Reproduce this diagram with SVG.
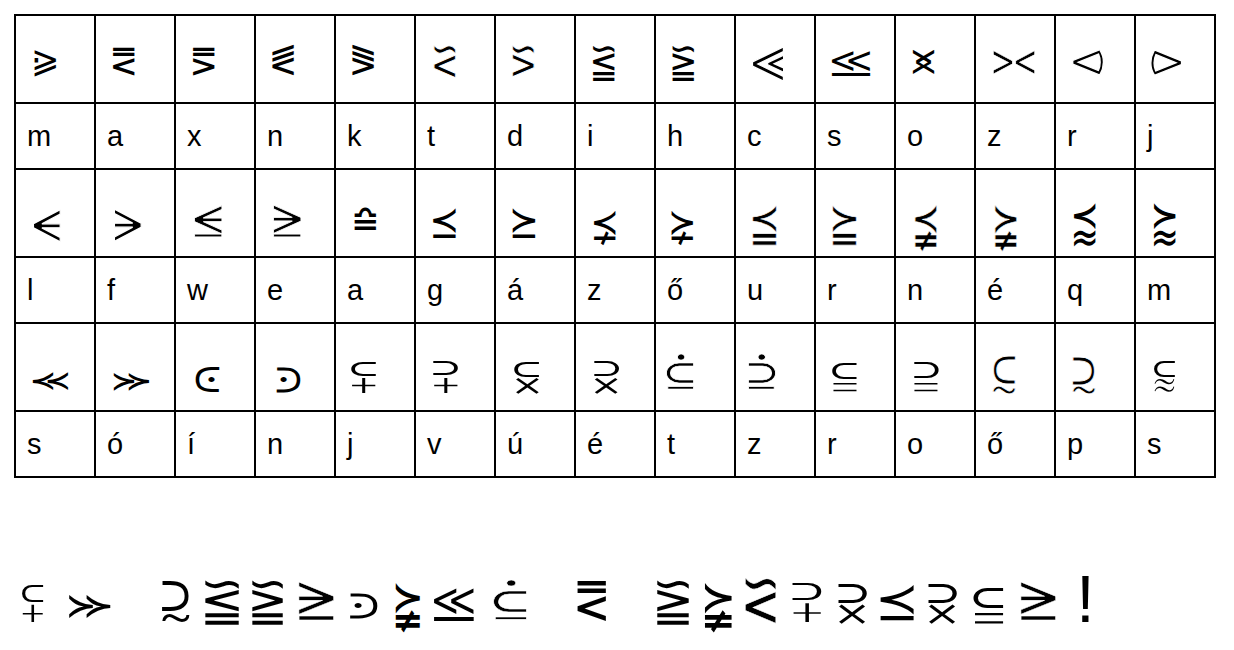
<svg xmlns="http://www.w3.org/2000/svg" width="1234" height="650" viewBox="0 0 1234 650">
<style>
.g{stroke:#000;stroke-width:2;fill:none}
.s{font-family:"DejaVu Sans",sans-serif;font-size:34px;fill:#000}
.l{font-family:"Liberation Sans",Arial,sans-serif;font-size:29px;fill:#000}
.m{font-family:"DejaVu Sans",sans-serif;font-size:34px;fill:#000}
.x{font-family:"Liberation Sans",Arial,sans-serif;font-size:66px;fill:#000}
.e1{stroke:#fff;stroke-width:0.5px;vector-effect:non-scaling-stroke}
.e2{stroke:#fff;stroke-width:0.8px;vector-effect:non-scaling-stroke}
.e3{stroke:#fff;stroke-width:1.2px;vector-effect:non-scaling-stroke}
</style>
<rect width="1234" height="650" fill="#fff"/>
<g id="grid" class="g">
<rect x="15" y="15" width="1200" height="462"/>
<path d="M15 103H1215M15 169H1215M15 257H1215M15 323H1215M15 411H1215"/>
<path d="M95 15V477M175 15V477M255 15V477M335 15V477M415 15V477M495 15V477M575 15V477M655 15V477M735 15V477M815 15V477M895 15V477M975 15V477M1055 15V477M1135 15V477"/>
</g>
<g id="row1" class="s">
<text x="31" y="73" transform="translate(44.5 62) scale(1 1.1) translate(-44.5 -63.5)">⪀</text>
<text x="111" y="73" transform="translate(124 60) scale(1 1.14) translate(-125.5 -61)">⪙</text>
<text x="191" y="73" transform="translate(204 60) scale(1 1.14) translate(-205.5 -61)">⪚</text>
<text x="271" y="73" transform="translate(284 60) scale(1 1.19) translate(-286 -61)">⪛</text>
<text x="351" y="73" transform="translate(364 60) scale(1 1.19) translate(-366 -61)">⪜</text>
<text class="e2" x="431" y="73" transform="translate(445 62) scale(1 1.5) translate(-445.5 -62)">⪝</text>
<text class="e2" x="511" y="73" transform="translate(524 62) scale(1 1.5) translate(-526 -62)">⪞</text>
<text x="591" y="73" transform="translate(604 62) scale(1 1.14) translate(-605.5 -62.5)">⪟</text>
<text x="671" y="73" transform="translate(684 62) scale(1 1.14) translate(-686 -62.5)">⪠</text>
<text class="e3" x="751" y="73" transform="translate(769 61.5) scale(1.78 1.9) translate(-761 -63.5)">⪡</text>
<text x="831" y="73" transform="translate(851.5 62) scale(1.28 1.2) translate(-847.5 -62.5)">⪣</text>
<text x="911" y="73" transform="translate(925 61.5) scale(1.04 1.35) translate(-923.5 -63.5)">⪤</text>
<text class="e1" x="991" y="73" transform="translate(1013.5 62.5) scale(1.5 1.4) translate(-1006 -64.5)">⪥</text>
<text class="e3" x="1071" y="73" transform="translate(1087.5 61.5) scale(1.8 1.6) translate(-1080 -64)">⪦</text>
<text class="e3" x="1151" y="73" transform="translate(1167.5 61.5) scale(1.8 1.6) translate(-1161.5 -64)">⪧</text>
</g>
<g id="row2" class="l">
<text x="27" y="146">m</text><text x="107" y="146">a</text><text x="187" y="146">x</text><text x="267" y="146">n</text><text x="347" y="146">k</text><text x="427" y="146">t</text><text x="507" y="146">d</text><text x="587" y="146">i</text><text x="667" y="146">h</text><text x="747" y="146">c</text><text x="827" y="146">s</text><text x="907" y="146">o</text><text x="987" y="146">z</text><text x="1067" y="146">r</text><text x="1147" y="146">j</text>
</g>
<g id="row3" class="s">
<text class="e3" x="31" y="227" transform="translate(46 223.5) scale(1.55 1.8) translate(-40 -217)">⪪</text>
<text class="e3" x="111" y="227" transform="translate(126.5 223.5) scale(1.55 1.8) translate(-120 -217)">⪫</text>
<text class="e2" x="191" y="227" transform="translate(206.5 221.5) scale(1.6 1.6) translate(-199.5 -216.5)">⪬</text>
<text class="e2" x="271" y="227" transform="translate(285.5 221.5) scale(1.6 1.6) translate(-279.5 -216.5)">⪭</text>
<text x="351" y="227" transform="translate(363.5 218.5) scale(1 1.2) translate(-363.5 -216)">⪮</text>
<text x="431" y="227" transform="translate(445 223.5) scale(1.05 1.27) translate(-446 -216)">⪯</text>
<text x="511" y="227" transform="translate(524.5 223.5) scale(1.05 1.27) translate(-526 -216)">⪰</text>
<text x="591" y="227" transform="translate(605 227) scale(1 1.25) translate(-605.5 -217)">⪱</text>
<text x="671" y="227" transform="translate(683 227) scale(1 1.25) translate(-686 -217)">⪲</text>
<text class="e1" x="751" y="227" transform="translate(764.5 222.5) scale(1.1 1.5) translate(-765 -216)">⪳</text>
<text class="e1" x="831" y="227" transform="translate(844.5 222.5) scale(1.1 1.5) translate(-845 -216)">⪴</text>
<text class="e1" x="911" y="227" transform="translate(925.5 225.5) scale(1 1.6) translate(-925 -217)">⪵</text>
<text class="e1" x="991" y="227" transform="translate(1005.5 225.5) scale(1 1.6) translate(-1005 -217)">⪶</text>
<text x="1071" y="227" transform="translate(1084.5 224.5) scale(1 1.43) translate(-1085 -218)">⪷</text>
<text x="1151" y="227" transform="translate(1164.5 224.5) scale(1 1.43) translate(-1165 -218)">⪸</text>
</g>
<g id="row4" class="l">
<text x="27" y="300">l</text><text x="107" y="300">f</text><text x="187" y="300">w</text><text x="267" y="300">e</text><text x="347" y="300">a</text><text x="427" y="300">g</text><text x="507" y="300">á</text><text x="587" y="300">z</text><text x="667" y="300">ő</text><text x="747" y="300">u</text><text x="827" y="300">r</text><text x="907" y="300">n</text><text x="987" y="300">é</text><text x="1067" y="300">q</text><text x="1147" y="300">m</text>
</g>
<g id="row5" class="s">
<text x="31" y="381" transform="translate(50.5 379.5) scale(1.23 1.1) translate(-47 -371.5)">⪻</text>
<text x="111" y="381" transform="translate(130 379.5) scale(1.23 1.1) translate(-126 -371.5)">⪼</text>
<text x="191" y="381" transform="translate(205.5 377) scale(1.47 1.22) translate(-199.5 -368.5)">⪽</text>
<text x="271" y="381" transform="translate(286.5 377) scale(1.47 1.22) translate(-279.5 -368.5)">⪾</text>
<text x="351" y="381" transform="translate(364.5 376.5) scale(1.8 1.17) translate(-359 -368)">⪿</text>
<text x="431" y="381" transform="translate(446 376.5) scale(1.8 1.17) translate(-438.5 -368)">⫀</text>
<text x="511" y="381" transform="translate(525.5 376.5) scale(1.8 1.25) translate(-518 -368)">⫁</text>
<text x="591" y="381" transform="translate(605.5 376.5) scale(1.8 1.25) translate(-598 -368)">⫂</text>
<text class="e2" x="671" y="381" transform="translate(682 371) scale(2 1.55) translate(-679.5 -367.5)">⫃</text>
<text class="e2" x="751" y="381" transform="translate(764.5 371) scale(2 1.55) translate(-759.5 -367.5)">⫄</text>
<text x="831" y="381" transform="translate(843.5 376.5) scale(1.8 1.3) translate(-838 -369.5)">⫅</text>
<text x="911" y="381" transform="translate(925.5 376.5) scale(1.8 1.3) translate(-918 -369.5)">⫆</text>
<text class="e2" x="991" y="381" transform="translate(1005.5 377.5) scale(1.35 1.32) translate(-1001.5 -370.5)">⫇</text>
<text class="e2" x="1071" y="381" transform="translate(1084.5 377.5) scale(1.35 1.32) translate(-1081.5 -370.5)">⫈</text>
<text x="1151" y="381" transform="translate(1164.5 377) scale(1.53 1.35) translate(-1158.5 -370.5)">⫉</text>
</g>
<g id="row6" class="l">
<text x="27" y="454">s</text><text x="107" y="454">ó</text><text x="187" y="454">í</text><text x="267" y="454">n</text><text x="347" y="454">j</text><text x="427" y="454">v</text><text x="507" y="454">ú</text><text x="587" y="454">é</text><text x="667" y="454">t</text><text x="747" y="454">z</text><text x="827" y="454">r</text><text x="907" y="454">o</text><text x="987" y="454">ő</text><text x="1067" y="454">p</text><text x="1147" y="454">s</text>
</g>
<g id="message" class="m">
<text x="-8" y="13" transform="translate(33.25 603.5) scale(1.54 1.37)">⪿</text>
<text x="-15" y="9.5" transform="translate(88.5 603.5) scale(1.43 1.42)">⪼</text>
<text x="-10.5" y="10.5" transform="translate(176 603) scale(1.65 1.48)">⫈</text>
<text x="-14.5" y="10.5" transform="translate(222.5 601) scale(1.57 1.43)">⪟</text>
<text x="-14.5" y="10.5" transform="translate(268 601) scale(1.43 1.43)">⪠</text>
<text class="e1" x="-8.5" y="10.5" transform="translate(314 601.5) scale(2 1.78)">⪭</text>
<text x="-8.5" y="12.5" transform="translate(361.5 603) scale(1.7 1.22)">⪾</text>
<text x="-14" y="10" transform="translate(407.5 604) scale(1.125 1.7)">⪶</text>
<text x="-16.5" y="10.5" transform="translate(454.5 602.5) scale(1.34 1.56)">⪣</text>
<text class="e1" x="-8.5" y="13.5" transform="translate(512.5 599) scale(2.4 1.7)">⫃</text>
<text x="-14.5" y="12" transform="translate(592 599) scale(1.33 1.64)">⪙</text>
<text x="-14.5" y="10.5" transform="translate(673.5 601) scale(1.48 1.43)">⪠</text>
<text x="-14" y="10" transform="translate(718 604) scale(1.25 1.7)">⪶</text>
<text class="e1" x="-14.5" y="11" transform="translate(761 601) scale(1.43 2.1)">⪝</text>
<text x="-7.5" y="13" transform="translate(807 602.5) scale(2.1 1.43)">⫀</text>
<text x="-7" y="13" transform="translate(852 602.5) scale(2.1 1.54)">⫂</text>
<text x="-15" y="11" transform="translate(898.5 602.5) scale(1.55 1.5)">⪯</text>
<text x="-7" y="13" transform="translate(942 602.5) scale(2.1 1.54)">⫂</text>
<text x="-7" y="11.5" transform="translate(987.5 604.5) scale(2.2 1.6)">⫅</text>
<text class="e1" x="-8.5" y="10.5" transform="translate(1036 601.5) scale(2 1.78)">⪭</text>
<text class="x" x="1085.5" y="622" text-anchor="middle">!</text>
</g>
</svg>
